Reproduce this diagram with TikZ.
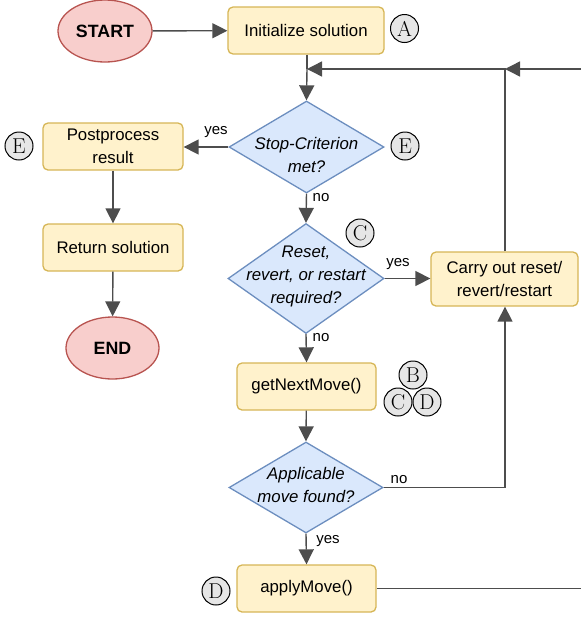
\documentclass[tikz,border=0pt]{standalone}
\usepackage{fontspec}
\newfontfamily\arialf{Liberation Sans}
\usetikzlibrary{shapes.geometric,arrows.meta}
\definecolor{boxfill}{HTML}{FFF2CC}
\definecolor{boxdraw}{HTML}{D6B656}
\definecolor{termfill}{HTML}{F8CECC}
\definecolor{termdraw}{HTML}{B85450}
\definecolor{decfill}{HTML}{DAE8FC}
\definecolor{decdraw}{HTML}{6C8EBF}
\definecolor{tagfill}{HTML}{E6E6E6}
\definecolor{linec}{HTML}{4D4D4D}
\begin{document}
\begin{tikzpicture}[x=1pt,y=-1pt,
  txt/.style={font=\arialf\fontsize{16.8}{23}\selectfont, align=center},
  dtxt/.style={font=\arialf\itshape\fontsize{16.8}{23}\selectfont, align=center, inner sep=0pt},
  lbl/.style={font=\arialf\fontsize{15}{18}\selectfont, inner sep=0pt},
  proc/.style={draw=boxdraw, fill=boxfill, rounded corners=5pt, line width=1.3pt, inner sep=0pt, txt},
  term/.style={ellipse, draw=termdraw, fill=termfill, line width=1.3pt, inner sep=0pt, font=\arialf\bfseries\fontsize{17.8}{20}\selectfont},
  dec/.style={diamond, draw=decdraw, fill=decfill, line width=1.3pt, inner sep=0pt},
  tagc/.style={circle, draw=black, fill=tagfill, line width=1pt, minimum size=28pt, inner sep=0pt, font=\fontsize{21.5}{21.5}\selectfont},
  arr/.style={draw=linec, line width=1.4pt, -{Triangle[length=15pt,width=15pt]}},
  conn/.style={draw=linec, line width=1.4pt}
]
\useasboundingbox (0,0) rectangle (581,619);

% terminals
\node[term, minimum width=94pt, minimum height=62pt] (start) at (105,31) {START};
\node[term, minimum width=93pt, minimum height=62pt] (end) at (112.5,348) {END};

% process boxes
\node[proc, minimum width=156pt, minimum height=47pt] (init) at (306,30.5) {Initialize solution};
\node[proc, minimum width=140pt, minimum height=47pt] (post) at (113,146.5) {Postprocess\\result};
\node[proc, minimum width=140pt, minimum height=47pt] (ret) at (113,247.5) {Return solution};
\node[proc, minimum width=147pt, minimum height=54pt] (carry) at (504.5,279) {Carry out reset/\\revert/restart};
\node[proc, minimum width=139pt, minimum height=47pt] (next) at (306.5,386.5) {getNextMove()};
\node[proc, minimum width=139pt, minimum height=47pt] (apply) at (306.5,588.5) {applyMove()};

% decisions
\node[dec, minimum width=155pt, minimum height=92pt] (stop) at (306.5,147) {};
\node[dtxt] (stopt) at (306.5,155) {Stop-Criterion\\met?};
\node[dec, minimum width=156pt, minimum height=110pt] (reset) at (306,278.5) {};
\node[dtxt] (resett) at (306,276) {Reset,\\revert, or restart\\required?};
\node[dec, minimum width=154pt, minimum height=91pt] (appl) at (306,487.5) {};
\node[dtxt] (applt) at (306,485) {Applicable\\move found?};

% tags
\node[tagc] (tA) at (404.5,28.5) {A};
\node[tagc] (tE1) at (405,146) {E};
\node[tagc] (tE2) at (19,146) {E};
\node[tagc] (tC1) at (360,233) {C};
\node[tagc] (tB) at (413,375) {B};
\node[tagc] (tC2) at (398,402) {C};
\node[tagc] (tD1) at (427,402) {D};
\node[tagc] (tD2) at (216,591) {D};

% helper coordinates
\coordinate (J) at (505,69);
\coordinate (M) at (307,69);
\coordinate (R1) at (581,69);
\coordinate (R2) at (581,588.5);

% connectors
\draw[arr] (start) -- (init);
\draw[conn] (init.south -| M) -- (M);
\draw[arr] (M) -- (stop.north);
\draw[arr] (R1) -- (J);
\draw[arr] (carry.north -| J) -- (J) -- (M);
\draw[arr] (stop.west) -- (stop.west -| post.east);
\draw[arr] (post) -- (ret);
\draw[arr] (ret) -- (end);
\draw[arr] (stop.south) -- (reset.north);
\draw[arr] (reset.east) -- (reset.east -| carry.west);
\draw[arr] (reset.south) -- (next.north);
\draw[arr] (next) -- (appl.north);
\draw[arr] (appl.east) -| (J |- carry.south);
\draw[arr] (appl.south) -- (apply.north);
\draw[conn] (apply.east) -- (R2);

% labels
\node[lbl] (l1) at (216,132) {yes};
\node[lbl] (l2) at (321,198) {no};
\node[lbl] (l3) at (398,264) {yes};
\node[lbl] (l4) at (321,338) {no};
\node[lbl] (l5) at (399,480) {no};
\node[lbl] (l6) at (328,541) {yes};
\end{tikzpicture}
\end{document}
